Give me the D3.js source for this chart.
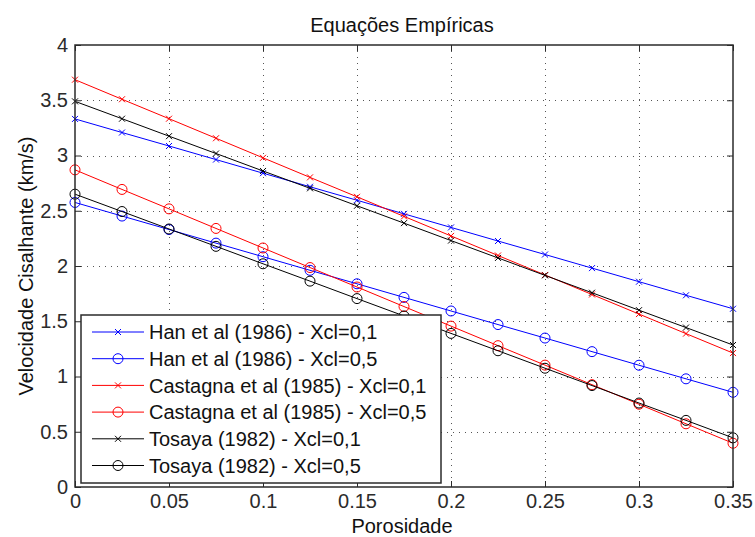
<!DOCTYPE html>
<html>
<head>
<meta charset="utf-8">
<script src="https://cdn.jsdelivr.net/npm/d3@7"></script>
<style>
  body { margin: 0; background: #fff; }
  svg { display: block; font-family: "Liberation Sans", Arial, sans-serif; }
</style>
</head>
<body>
<svg id="chart" width="755" height="537"></svg>
<script>
// porosity values (x)
const porosity = [0, 0.025, 0.05, 0.075, 0.1, 0.125, 0.15, 0.175, 0.2, 0.225, 0.25, 0.275, 0.3, 0.325, 0.35];

// shear velocity (km/s) for each equation
const han01 = [3.331, 3.208, 3.086, 2.963, 2.840, 2.717, 2.595, 2.472, 2.349, 2.226, 2.104, 1.981, 1.858, 1.735, 1.613];
const han05 = [2.575, 2.452, 2.330, 2.207, 2.084, 1.961, 1.839, 1.716, 1.593, 1.470, 1.348, 1.225, 1.102, 0.979, 0.857];
const castagna01 = [3.686, 3.509, 3.333, 3.156, 2.979, 2.802, 2.626, 2.449, 2.272, 2.095, 1.919, 1.742, 1.565, 1.388, 1.212];
const castagna05 = [2.870, 2.693, 2.517, 2.340, 2.163, 1.986, 1.810, 1.633, 1.456, 1.279, 1.103, 0.926, 0.749, 0.572, 0.396];
const tosaya01 = [3.490, 3.333, 3.175, 3.018, 2.860, 2.703, 2.545, 2.388, 2.230, 2.073, 1.915, 1.758, 1.600, 1.443, 1.285];
const tosaya05 = [2.650, 2.493, 2.335, 2.178, 2.020, 1.863, 1.705, 1.548, 1.390, 1.233, 1.075, 0.918, 0.760, 0.603, 0.445];

const seriesNames = [
  "Han et al (1986) - Xcl=0,1",
  "Han et al (1986) - Xcl=0,5",
  "Castagna et al (1985) - Xcl=0,1",
  "Castagna et al (1985) - Xcl=0,5",
  "Tosaya (1982) - Xcl=0,1",
  "Tosaya (1982) - Xcl=0,5"
];
const seriesValues = [han01, han05, castagna01, castagna05, tosaya01, tosaya05];
const seriesColors = ["#0000ff", "#0000ff", "#ff0000", "#ff0000", "#000000", "#000000"];
const seriesMarkers = ["x", "o", "x", "o", "x", "o"];

const xTicks = [0, 0.05, 0.1, 0.15, 0.2, 0.25, 0.3, 0.35];
const yTicks = [0, 0.5, 1, 1.5, 2, 2.5, 3, 3.5, 4];

const svg = d3.select("#chart");
const plot = { left: 75, top: 45, right: 733, bottom: 487 };

const x = d3.scaleLinear().domain([0, 0.35]).range([plot.left, plot.right]);
const y = d3.scaleLinear().domain([0, 4]).range([plot.bottom, plot.top]);

const axisColor = "#2b2b2b";
const fontSize = "20px";

// grid (dotted)
const grid = svg.append("g");
grid.selectAll("line.gx")
  .data(xTicks.slice(1, -1))
  .join("line")
  .attr("x1", d => x(d) + 0.5).attr("x2", d => x(d) + 0.5)
  .attr("y1", plot.top).attr("y2", plot.bottom)
  .attr("stroke", "#555").attr("stroke-width", 1)
  .attr("stroke-dasharray", "1,5");
grid.selectAll("line.gy")
  .data(yTicks.slice(1, -1))
  .join("line")
  .attr("y1", d => Math.round(y(d)) + 0.5).attr("y2", d => Math.round(y(d)) + 0.5)
  .attr("x1", plot.left).attr("x2", plot.right)
  .attr("stroke", "#555").attr("stroke-width", 1)
  .attr("stroke-dasharray", "1,5");

// series lines and markers
const line = d3.line().x((d, i) => x(porosity[i])).y(d => y(d));
seriesValues.forEach((vals, k) => {
  const g = svg.append("g");
  g.append("path")
    .attr("d", line(vals))
    .attr("fill", "none")
    .attr("stroke", seriesColors[k])
    .attr("stroke-width", 1);
  drawMarkers(g, vals.map((v, i) => [x(porosity[i]), y(v)]), seriesMarkers[k], seriesColors[k]);
});

function drawMarkers(g, pts, type, color) {
  if (type === "o") {
    g.selectAll("circle")
      .data(pts)
      .join("circle")
      .attr("cx", d => d[0]).attr("cy", d => d[1]).attr("r", 5)
      .attr("fill", "none").attr("stroke", color).attr("stroke-width", 1);
  } else {
    const s = 3;
    g.selectAll("path.mk")
      .data(pts)
      .join("path")
      .attr("d", d => `M${d[0] - s},${d[1] - s}L${d[0] + s},${d[1] + s}M${d[0] - s},${d[1] + s}L${d[0] + s},${d[1] - s}`)
      .attr("stroke", color).attr("stroke-width", 1).attr("fill", "none");
  }
}

// axes with inward ticks on all sides
const tickLen = 6;
const fmt = d => String(d);
const bottomAxis = svg.append("g")
  .attr("transform", `translate(0,${plot.bottom})`)
  .call(d3.axisBottom(x).tickValues(xTicks).tickSizeInner(-tickLen).tickSizeOuter(0).tickPadding(7).tickFormat(fmt));
const topAxis = svg.append("g")
  .attr("transform", `translate(0,${plot.top})`)
  .call(d3.axisTop(x).tickValues(xTicks).tickSizeInner(-tickLen).tickSizeOuter(0).tickFormat(""));
const leftAxis = svg.append("g")
  .attr("transform", `translate(${plot.left},0)`)
  .call(d3.axisLeft(y).tickValues(yTicks).tickSizeInner(-tickLen).tickSizeOuter(0).tickPadding(7).tickFormat(fmt));
const rightAxis = svg.append("g")
  .attr("transform", `translate(${plot.right},0)`)
  .call(d3.axisRight(y).tickValues(yTicks).tickSizeInner(-tickLen).tickSizeOuter(0).tickFormat(""));

[bottomAxis, topAxis, leftAxis, rightAxis].forEach(a => {
  a.select(".domain").remove();
  a.selectAll(".tick line").attr("stroke", axisColor);
  a.selectAll(".tick text")
    .attr("fill", axisColor)
    .style("font-size", fontSize)
    .style("font-family", "'Liberation Sans', Arial, sans-serif");
});

// box
svg.append("rect")
  .attr("x", plot.left).attr("y", plot.top)
  .attr("width", plot.right - plot.left).attr("height", plot.bottom - plot.top)
  .attr("fill", "none").attr("stroke", axisColor).attr("stroke-width", 1.5);

// legend
const legend = svg.append("g").attr("transform", "translate(81,315)");
legend.append("rect")
  .attr("width", 360).attr("height", 168)
  .attr("fill", "#fff").attr("stroke", axisColor).attr("stroke-width", 1.5);
seriesNames.forEach((name, k) => {
  const ly = 17 + k * 26.7;
  const row = legend.append("g");
  row.append("line")
    .attr("x1", 11).attr("x2", 63).attr("y1", ly).attr("y2", ly)
    .attr("stroke", seriesColors[k]).attr("stroke-width", 1);
  drawMarkers(row, [[37, ly]], seriesMarkers[k], seriesColors[k]);
  row.append("text")
    .attr("x", 68).attr("y", ly).attr("dy", "0.36em")
    .attr("fill", "#111")
    .style("font-size", fontSize)
    .text(name);
});

// title and axis labels
svg.append("text")
  .attr("x", 402).attr("y", 32)
  .attr("text-anchor", "middle").attr("fill", "#111")
  .style("font-size", fontSize)
  .text("Equações Empíricas");
svg.append("text")
  .attr("x", 402).attr("y", 533)
  .attr("text-anchor", "middle").attr("fill", "#111")
  .style("font-size", fontSize)
  .text("Porosidade");
svg.append("text")
  .attr("transform", `translate(33,${(plot.top + plot.bottom) / 2}) rotate(-90)`)
  .attr("text-anchor", "middle").attr("fill", "#111")
  .style("font-size", fontSize)
  .text("Velocidade Cisalhante (km/s)");
</script>
</body>
</html>
